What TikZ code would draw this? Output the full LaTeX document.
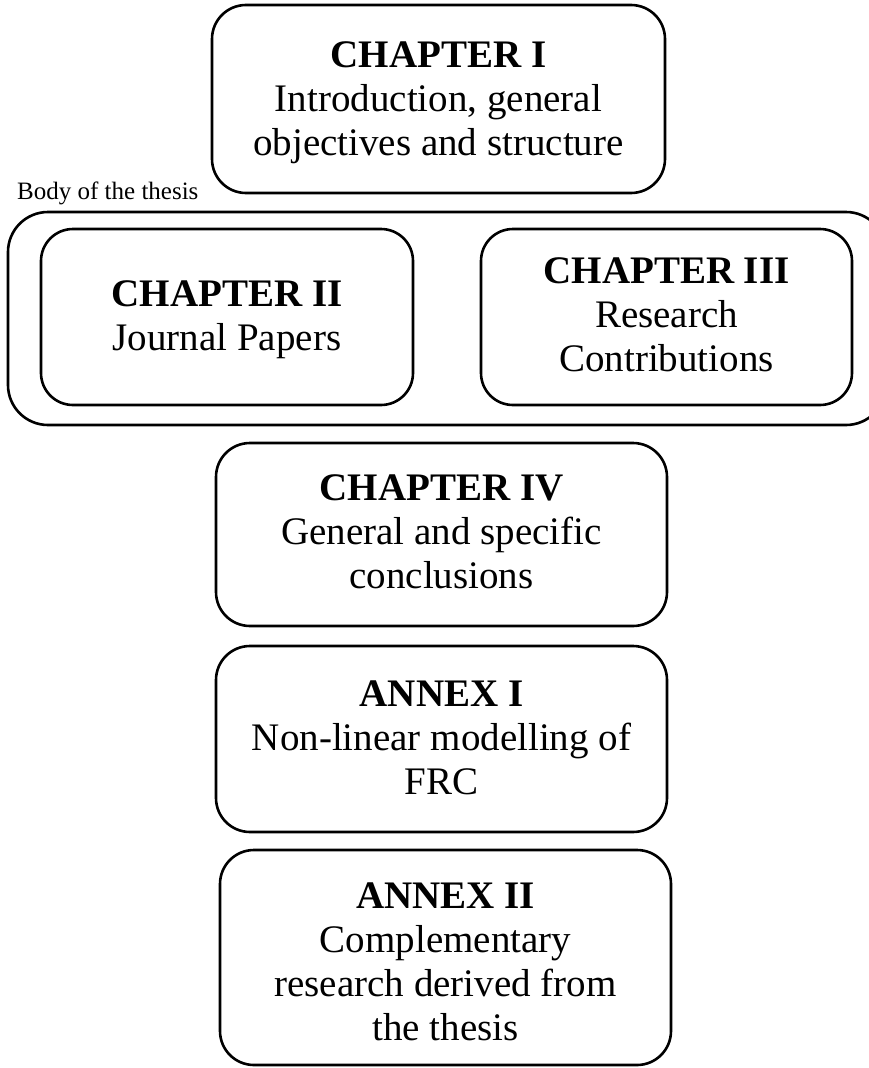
\documentclass[tikz,border=0pt]{standalone}
\usepackage{fontspec}
\setmainfont{Liberation Serif}
\begin{document}
\begin{tikzpicture}[x=1pt,y=-1pt,
  box/.style={draw=black, line width=2.6pt, rounded corners=34pt, inner sep=0pt},
  txt/.style={align=center, font=\fontsize{39}{44}\selectfont, inner sep=0pt},
  small/.style={font=\fontsize{25}{28}\selectfont, inner sep=0pt}]
\useasboundingbox (0,0) rectangle (869,1068);
% outer body frame
\node[box, rounded corners=40pt, minimum width=878pt, minimum height=213pt] (body) at (447,318.5) {};
\node[small, anchor=base west] (bodylbl) at (17,199) {Body of the thesis};
% Chapter I
\node[box, minimum width=453pt, minimum height=188pt] (c1) at (438.5,99) {};
\node[txt] (t1) at (438.5,103) {\textbf{CHAPTER I}\\Introduction, general\\objectives and structure};
% Chapter II
\node[box, rounded corners=32pt, minimum width=372pt, minimum height=176pt] (c2) at (227,317) {};
\node[txt] (t2) at (227,320) {\textbf{CHAPTER II}\\Journal Papers};
% Chapter III
\node[box, rounded corners=32pt, minimum width=371pt, minimum height=176pt] (c3) at (666.5,317) {};
\node[txt] (t3) at (666.5,315) {\textbf{CHAPTER III}\\Research\\Contributions};
% Chapter IV
\node[box, minimum width=451pt, minimum height=183pt] (c4) at (441.5,534.5) {};
\node[txt] (t4) at (441.5,532) {\textbf{CHAPTER IV}\\General and specific\\conclusions};
% Annex I
\node[box, minimum width=451pt, minimum height=186pt] (a1) at (441.5,739) {};
\node[txt] (ta1) at (441.5,738) {\textbf{ANNEX I}\\Non-linear modelling of\\FRC};
% Annex II
\node[box, minimum width=451pt, minimum height=215pt] (a2) at (445.5,957.5) {};
\node[txt] (ta2) at (445.5,962) {\textbf{ANNEX II}\\Complementary\\research derived from\\the thesis};
\end{tikzpicture}
\end{document}
